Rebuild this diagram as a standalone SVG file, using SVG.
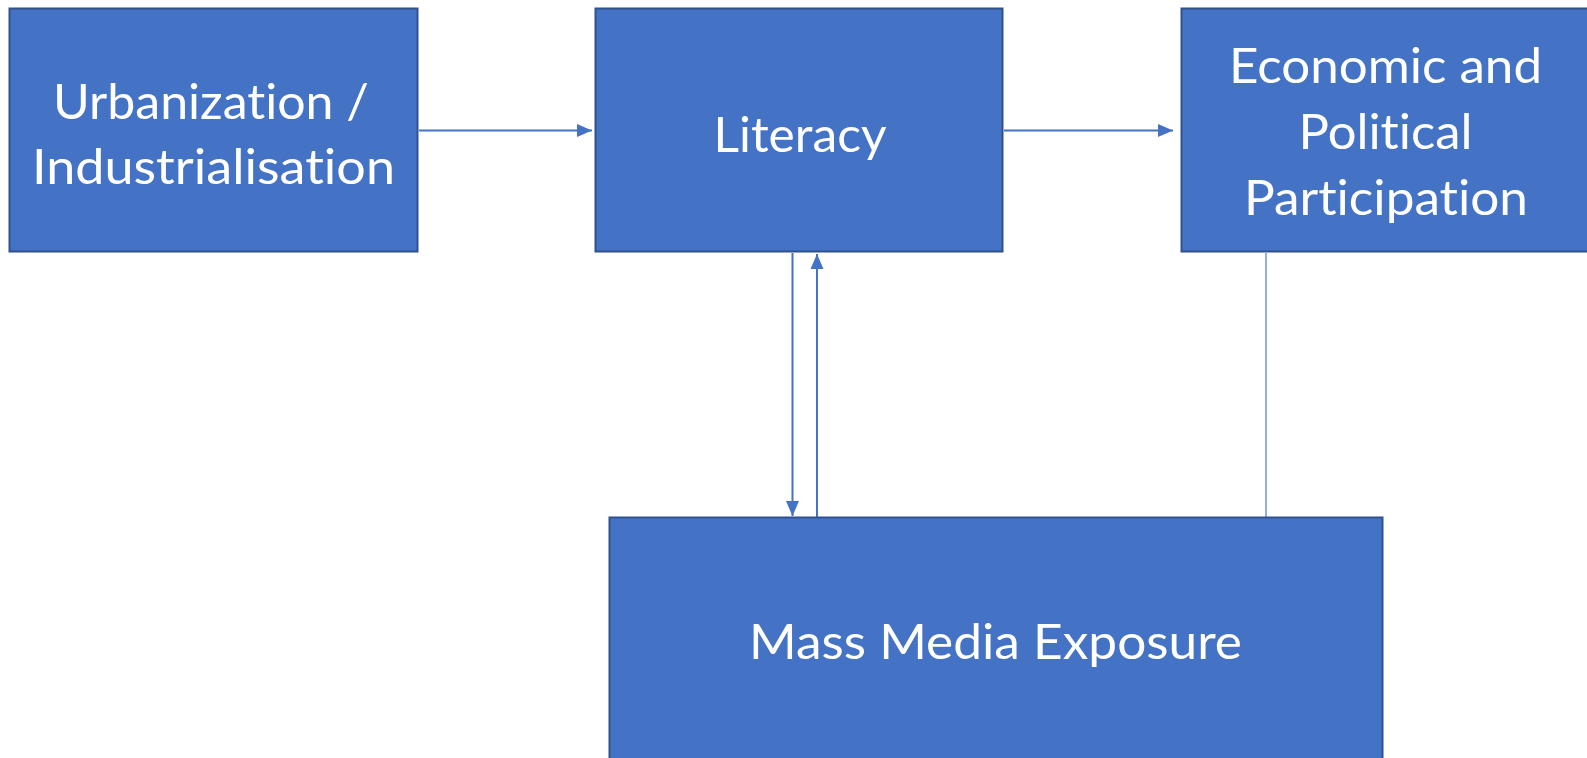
<svg xmlns="http://www.w3.org/2000/svg" width="1587" height="758" viewBox="0 0 1587 758">
  <style>
    .box { fill: #4472C4; stroke: #2F528F; stroke-width: 2; }
    .label { font-family: Lato, "Open Sans", "Liberation Sans", sans-serif; font-size: 49px; fill: #FFFFFF; text-anchor: middle; font-variant-ligatures: none; font-feature-settings: "liga" 0, "clig" 0; }
    .link { stroke: #4472C4; stroke-width: 2; fill: none; }
    .thin { stroke: #5B86D0; stroke-width: 1.3; fill: none; }
  </style>
  <defs>
    <marker id="arrow" markerUnits="userSpaceOnUse" markerWidth="15" markerHeight="14" viewBox="0 0 15 14" refX="15" refY="7" orient="auto">
      <path d="M0,0.5 L15,7 L0,13.5 Z" fill="#4472C4"/>
    </marker>
  </defs>
  <rect width="1587" height="758" fill="#FFFFFF"/>

  <g id="connectors">
    <line class="link" x1="419" y1="130.5" x2="592" y2="130.5" marker-end="url(#arrow)"/>
    <line class="link" x1="1004" y1="130.5" x2="1173" y2="130.5" marker-end="url(#arrow)"/>
    <line class="link" x1="792.5" y1="253" x2="792.5" y2="516" marker-end="url(#arrow)"/>
    <line class="link" x1="817" y1="517" x2="817" y2="254" marker-end="url(#arrow)"/>
    <line class="thin" x1="1266" y1="253" x2="1266" y2="517"/>
  </g>

  <g id="urbanization">
    <rect class="box" x="9.5" y="8.5" width="408" height="243"/>
    <text class="label" x="211" y="118.5" textLength="316" lengthAdjust="spacingAndGlyphs">Urbanization /</text>
    <text class="label" x="213.5" y="184" textLength="363" lengthAdjust="spacingAndGlyphs">Industrialisation</text>
  </g>

  <g id="literacy">
    <rect class="box" x="595.5" y="8.5" width="407" height="243"/>
    <text class="label" x="800" y="152" textLength="173" lengthAdjust="spacingAndGlyphs">Literacy</text>
  </g>

  <g id="participation">
    <rect class="box" x="1181.5" y="8.5" width="408" height="243"/>
    <text class="label" x="1385.5" y="83" textLength="313" lengthAdjust="spacingAndGlyphs">Economic and</text>
    <text class="label" x="1385.5" y="149" textLength="174" lengthAdjust="spacingAndGlyphs">Political</text>
    <text class="label" x="1386" y="214.5" textLength="284" lengthAdjust="spacingAndGlyphs">Participation</text>
  </g>

  <g id="mass-media">
    <rect class="box" x="609.5" y="517.5" width="773" height="250"/>
    <text class="label" x="995.5" y="659" textLength="493" lengthAdjust="spacingAndGlyphs">Mass Media Exposure</text>
  </g>
</svg>
